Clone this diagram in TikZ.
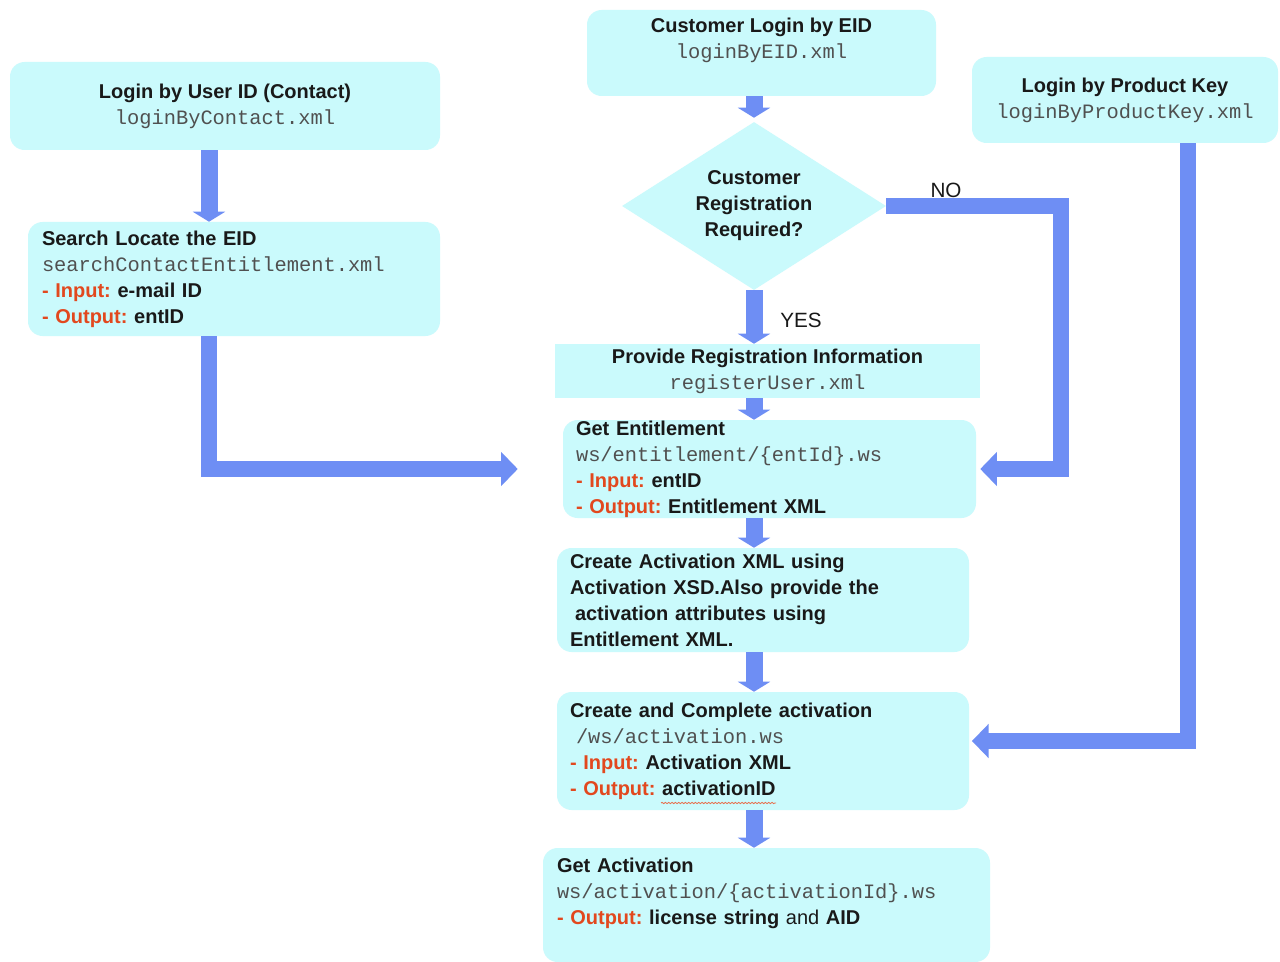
\documentclass[tikz,border=0pt]{standalone}
\usepackage{fontspec}
\setmainfont{Liberation Sans}
\setmonofont{Liberation Mono}
\usetikzlibrary{arrows.meta,shapes.geometric,calc,decorations.pathmorphing}
\definecolor{boxc}{RGB}{202,250,252}
\definecolor{arrc}{RGB}{110,142,244}
\definecolor{redc}{RGB}{226,72,30}
\definecolor{monoc}{RGB}{80,80,80}
\definecolor{textc}{RGB}{25,25,25}
\newcommand\mt[1]{{\fontsize{15.3}{19.5}\selectfont\mdseries\ttfamily\color{monoc}#1}}
\newcommand\rd[1]{\textcolor{redc}{#1}}
\newcommand\sink[1]{\rule[-#1]{0pt}{#1}}
\frenchspacing
\begin{document}
\begin{tikzpicture}[x=0.75pt,y=-0.75pt,
  font=\fontsize{15}{19.5}\selectfont\bfseries\frenchspacing,
  box/.style={fill=boxc, rounded corners=11pt, inner xsep=0pt, inner ysep=0pt, text=textc, align=center},
  lbox/.style={box, align=left},
  sqbox/.style={box, rounded corners=0pt},
  dia/.style={shape=diamond, fill=boxc, shape aspect=1.571, minimum width=198pt, minimum height=126pt, inner sep=0pt, text=textc, align=center},
  sarrow/.style={draw=arrc, line width=12.75pt, -{Triangle[width=24pt,length=7.5pt]}},
  barrow/.style={draw=arrc, line width=12pt, line join=miter, -{Triangle[width=25pt,length=12.5pt]}},
  lab/.style={font=\fontsize{15.5}{19.5}\selectfont\mdseries, text=textc, inner sep=0pt}
]
\fill[white] (0,0) rectangle (1280,962);
\useasboundingbox (0,0) rectangle (1280,962);

% boxes
\node[box, minimum width=322.5pt, minimum height=66pt] (A) at (225,106)
  {Login by User ID (Contact)\\\mt{loginByContact.xml}};
\node[lbox, minimum width=309pt, minimum height=85.5pt, text width=288pt, inner xsep=10.5pt] (B) at (234,279)
  {Search Locate the EID\\\mt{searchContactEntitlement.xml}\\\rd{- Input:} e-mail ID\\\rd{- Output:} entID};
\node[box, minimum width=261.75pt, minimum height=64.5pt] (C) at (761.5,53)
  {Customer Login by EID\\\mt{loginByEID.xml}\sink{22pt}};
\node[box, minimum width=229.5pt, minimum height=64.5pt] (D) at (1125,100)
  {Login by Product Key\\\mt{loginByProductKey.xml}};
\node[dia] (Dia) at (754,206) {Customer\\Registration\\Required?};
\node[sqbox, minimum width=318.75pt, minimum height=40.5pt] (E) at (767.5,371)
  {Provide Registration Information\\\mt{registerUser.xml}};
\node[lbox, minimum width=309.75pt, minimum height=73.5pt, text width=290.25pt, inner xsep=9.75pt] (F) at (769.5,469)
  {Get Entitlement\\\mt{ws/entitlement/\{entId\}.ws}\\\rd{- Input:} entID\\\rd{- Output:} Entitlement XML};
\node[lbox, minimum width=309pt, minimum height=78pt, text width=289.5pt, inner xsep=9.75pt] (G) at (763,600)
  {Create Activation XML using\\Activation XSD.Also provide the\\\hspace*{3.75pt}activation attributes using\\Entitlement XML.};
\node[lbox, minimum width=309pt, minimum height=88.5pt, text width=289.5pt, inner xsep=9.75pt] (H) at (763,751)
  {Create and Complete activation\\\hspace*{4.5pt}\mt{/ws/activation.ws}\\\rd{- Input:} Activation XML\\\rd{- Output:} activationID};
\node[lbox, minimum width=335.25pt, minimum height=85.5pt, text width=314.25pt, inner xsep=10.5pt] (I) at (766.5,905)
  {Get Activation\\\mt{ws/activation/\{activationId\}.ws}\\\rd{- Output:} license string {\mdseries and} AID\sink{21pt}};

% labels
\node[lab] (yes) at (801,320) {YES};
\node[lab] (no) at (946,190) {NO};

% spell-check underline
\draw[redc!80, line width=0.6pt, decorate, decoration={snake,amplitude=0.5pt,segment length=2.5pt}] (661,803) -- (776,803);

% connectors
\draw[sarrow] ([xshift=-12pt]A.south) -- ([xshift=-12pt]A.south |- B.north);
\draw[barrow] ([xshift=-18.75pt]B.south) |- ([xshift=-33.75pt]F.west);
\draw[sarrow] (Dia.north |- C.south) -- ([yshift=3pt]Dia.north);
\draw[sarrow] (Dia.south) -- (Dia.south |- E.north);
\draw[sarrow] (E.south -| Dia.south) -- (F.north -| Dia.south);
\draw[sarrow] (F.south -| Dia.south) -- (G.north -| Dia.south);
\draw[sarrow] (G.south -| Dia.south) -- (H.north -| Dia.south);
\draw[sarrow] (H.south -| Dia.south) -- (I.north -| Dia.south);
\draw[barrow] (Dia.east) -| ($(F.east)+(85,0)$) -- ([xshift=3pt]F.east);
\draw[barrow] ([xshift=47.25pt]D.south) |- ([xshift=2pt,yshift=7.5pt]H.east);
\end{tikzpicture}
\end{document}
